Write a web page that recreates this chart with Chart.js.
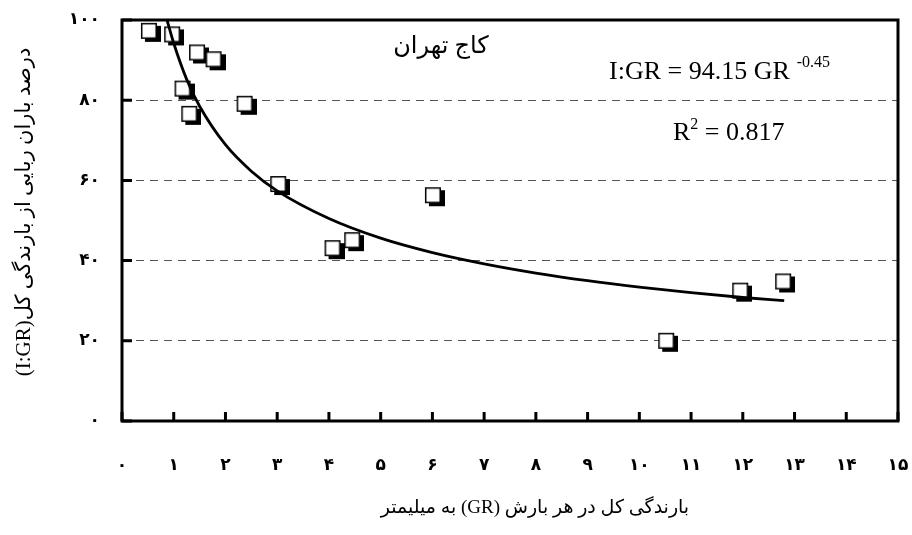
<!DOCTYPE html>
<html>
<head>
<meta charset="utf-8">
<script src="https://cdn.jsdelivr.net/npm/chart.js@4.4.1/dist/chart.umd.min.js"></script>
<style>
  html, body { margin: 0; padding: 0; background: #fff; }
  #wrap { width: 912px; height: 535px; position: relative; }
</style>
</head>
<body>
<div id="wrap"><canvas id="chart"></canvas></div>
<script>
// observed points: total rain per event (GR, mm) vs interception share (I:GR, %)
const grValues  = [0.52, 0.97, 1.45, 1.77, 1.17, 1.30, 2.37, 3.02, 4.07, 4.45, 6.01, 10.52, 11.95, 12.78];
const igrValues = [97.3, 96.4, 91.9, 90.2, 82.9, 76.6, 79.1, 59.1, 43.1, 45.1, 56.3, 20.0, 32.5, 34.8];

// fitted power curve
const trendGR  = [0.87, 1, 1.25, 1.5, 2, 2.5, 3, 4, 5, 6, 7, 8, 9, 10, 11, 12, 12.8];
const trendIGR = [100, 94.2, 85.2, 78.5, 68.9, 62.3, 57.4, 50.5, 45.6, 42.0, 39.2, 36.9, 35.0, 33.4, 32.0, 30.8, 30.0];

const xTickLabels = ['۰', '۱', '۲', '۳', '۴', '۵', '۶', '۷', '۸', '۹', '۱۰', '۱۱', '۱۲', '۱۳', '۱۴', '۱۵'];
const yTickLabels = ['۰', '۲۰', '۴۰', '۶۰', '۸۰', '۱۰۰'];

const siteLabel = 'کاج تهران';
const equationText = 'I:GR = 94.15 GR';
const equationExp = '-0.45';
const r2Text = ' = 0.817';
const xTitle = 'بارندگی کل در هر بارش (GR) به میلیمتر';
const yTitle = 'درصد باران ربایی از بارندگی کل(I:GR)';

const SERIF = '"Liberation Serif", "Times New Roman", "DejaVu Sans", serif';
const DIGITS = '"DejaVu Sans", sans-serif';

/** white square marker with a solid black drop shadow */
function makeMarker() {
  const side = 16, off = 4;
  const size = side + 2 * off;
  const c = document.createElement('canvas');
  c.width = size;
  c.height = size;
  const g = c.getContext('2d');
  g.fillStyle = '#000';
  g.fillRect(off + 4, off + 3, side, side);
  g.fillStyle = '#fff';
  g.fillRect(off, off, side, side);
  g.strokeStyle = '#000';
  g.lineWidth = 1.5;
  g.strokeRect(off + 0.75, off + 0.75, side - 1.5, side - 1.5);
  return c;
}

/** frame, inward tick marks and the free texts */
const decorPlugin = {
  id: 'decor',
  afterDraw(chart) {
    const { ctx, chartArea: a, scales: { x, y } } = chart;
    ctx.save();
    ctx.strokeStyle = '#000';
    ctx.lineWidth = 3;
    ctx.strokeRect(a.left, a.top, a.right - a.left, a.bottom - a.top);

    ctx.beginPath();
    x.ticks.forEach(t => {
      const px = x.getPixelForValue(t.value);
      ctx.moveTo(px, a.bottom);
      ctx.lineTo(px, a.bottom - 9);
    });
    y.ticks.forEach(t => {
      const py = y.getPixelForValue(t.value);
      ctx.moveTo(a.left, py);
      ctx.lineTo(a.left + 10, py);
    });
    ctx.stroke();

    ctx.fillStyle = '#000';

    // axis titles (rtl)
    ctx.direction = 'rtl';
    ctx.textAlign = 'center';
    ctx.textBaseline = 'middle';
    ctx.font = '19px ' + SERIF;
    ctx.fillText(xTitle, 535, 508);

    ctx.save();
    ctx.translate(24, 212);
    ctx.rotate(-Math.PI / 2);
    ctx.font = '21px ' + SERIF;
    ctx.fillText(yTitle, 0, 0);
    ctx.restore();

    ctx.font = '24px ' + SERIF;
    ctx.fillText(siteLabel, 441, 47);

    // equation and r²
    ctx.direction = 'ltr';
    ctx.textAlign = 'left';
    ctx.textBaseline = 'alphabetic';
    ctx.font = '26px ' + SERIF;
    ctx.fillText(equationText, 609, 79);
    let w = ctx.measureText(equationText).width;
    ctx.font = '16px ' + SERIF;
    ctx.fillText(equationExp, 609 + w + 7, 67);

    ctx.font = '26px ' + SERIF;
    ctx.fillText('R', 673, 140);
    w = ctx.measureText('R').width;
    ctx.font = '16px ' + SERIF;
    ctx.fillText('2', 673 + w, 129);
    const w2 = ctx.measureText('2').width;
    ctx.font = '26px ' + SERIF;
    ctx.fillText(r2Text, 673 + w + w2, 140);

    ctx.restore();
  }
};

new Chart(document.getElementById('chart'), {
  type: 'scatter',
  data: {
    datasets: [
      {
        label: 'trend',
        data: trendGR.map((g, i) => ({ x: g, y: trendIGR[i] })),
        showLine: true,
        borderColor: '#000',
        borderWidth: 2.8,
        pointRadius: 0,
        cubicInterpolationMode: 'monotone',
        order: 0
      },
      {
        label: 'observed',
        data: grValues.map((g, i) => ({ x: g, y: igrValues[i] })),
        pointStyle: makeMarker(),
        pointRadius: 12,
        order: 1
      }
    ]
  },
  options: {
    responsive: true,
    maintainAspectRatio: false,
    animation: false,
    devicePixelRatio: 1,
    layout: { padding: { left: 0, top: 20, right: 14, bottom: 0 } },
    plugins: {
      legend: { display: false },
      tooltip: { enabled: false }
    },
    scales: {
      x: {
        type: 'linear',
        min: 0,
        max: 15,
        afterFit(scale) {
          scale.height = 114;
          scale.paddingLeft = 0;
          scale.paddingRight = 0;
        },
        afterBuildTicks(scale) {
          scale.ticks = xTickLabels.map((_, i) => ({ value: i }));
        },
        ticks: {
          padding: 34,
          maxRotation: 0,
          autoSkip: false,
          color: '#000',
          font: { family: DIGITS, size: 17, weight: 'bold' },
          callback: (v) => xTickLabels[v]
        },
        grid: { display: false, drawTicks: false },
        border: { display: false }
      },
      y: {
        type: 'linear',
        min: 0,
        max: 100,
        afterFit(scale) {
          scale.width = 122;
          scale.paddingTop = 0;
          scale.paddingBottom = 0;
        },
        afterBuildTicks(scale) {
          scale.ticks = yTickLabels.map((_, i) => ({ value: i * 20 }));
        },
        ticks: {
          padding: 22,
          color: '#000',
          font: { family: DIGITS, size: 17, weight: 'bold' },
          callback: (v) => yTickLabels[v / 20]
        },
        grid: {
          drawTicks: false,
          color: '#555',
          lineWidth: 1
        },
        border: { display: false, dash: [8, 6] }
      }
    }
  },
  plugins: [decorPlugin]
});
</script>
</body>
</html>
